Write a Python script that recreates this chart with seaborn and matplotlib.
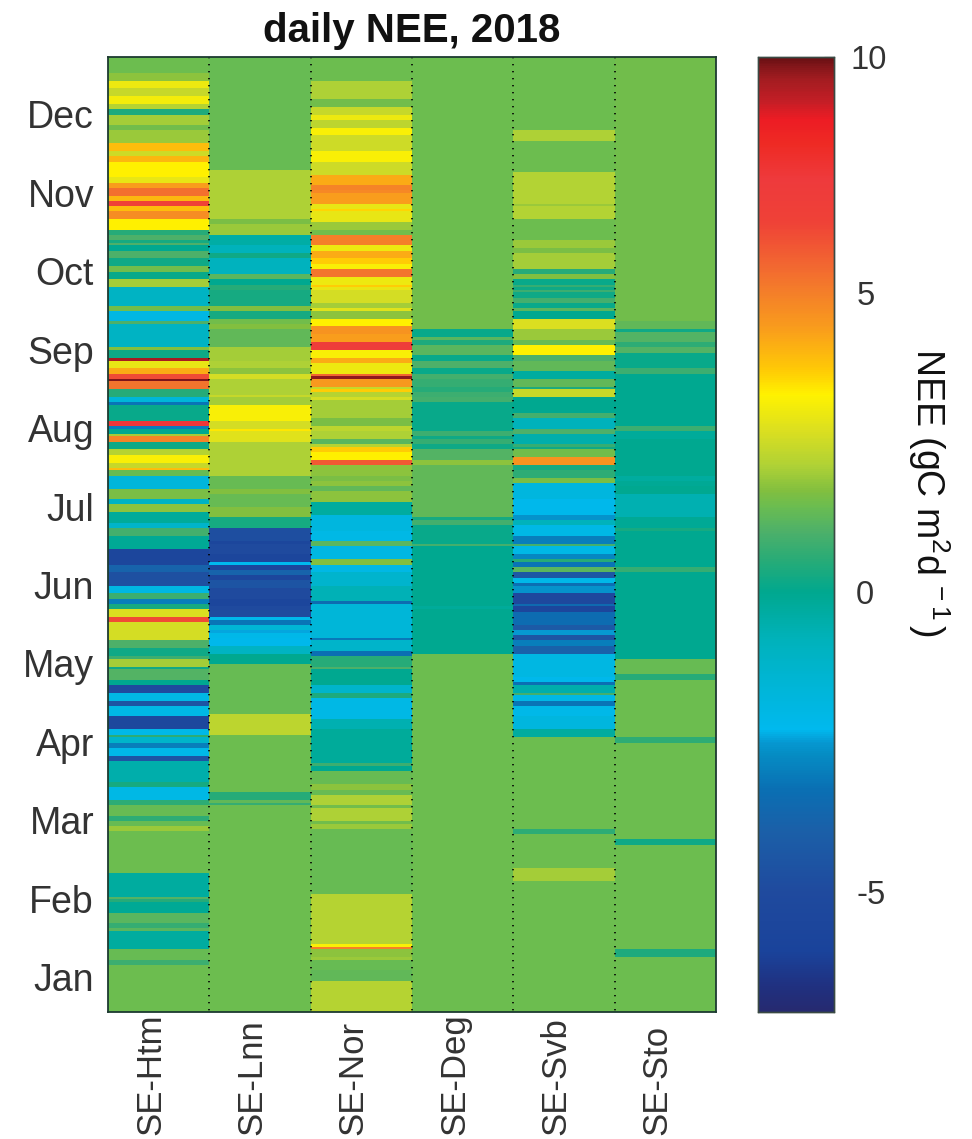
import numpy as np
import pandas as pd
import matplotlib
matplotlib.use("Agg")
import matplotlib.pyplot as plt
import matplotlib.transforms as mtrans
from matplotlib.colors import LinearSegmentedColormap
import seaborn as sns

# each site: day counted back from 31 Dec where a band ends, and the NEE of that band
htm_days = [6, 9, 12, 15, 18, 20, 22, 26, 28, 33, 36, 38, 40, 46, 48, 50, 53, 55, 57, 59, 62, 66, 68, 70, 71, 72, 74, 77, 80, 82, 85, 88,
            95, 97, 101, 102, 111, 112, 115, 116, 119, 121, 123, 124, 127, 130, 132, 133, 139, 141, 142, 144, 145, 147, 150, 152, 155, 157, 158, 160, 165, 169, 171, 174, 178, 180,
            183, 188, 194, 197, 202, 205, 207, 209, 211, 214, 216, 223, 226, 229, 230, 233, 234, 238, 240, 243, 246, 248, 252, 257, 259, 260, 262, 264, 267, 269,
            277, 279, 284, 286, 290, 292, 294, 296, 312, 321, 322, 323, 327, 331, 333, 334, 341, 345, 347, 365]
htm_nee = [1.45, 1.8, 3.0, 2.4, 3.1, 2.2, 0.4, 2.0, 1.5, 1.9, 3.9, 2.5, 4.0, 3.3, 2.9, 4.4, 5.3, 4.0, 6.2, 3.9, 4.7, 3.3, 0.5, 1.0, 0.3, 1.0, 0.0, 1.0, 0.2, 1.5, 0.1, 2.0,
           -1.0, 1.5, -1.9, 1.0, -1.0, 1.7, 0.2, 8.5, 2.9, 4.2, 6.0, 8.8, 5.2, 0.5, -1.6, -3.2, 0.1, 7.0, -3.0, 0.0, 2.0, 4.9, 0.2, 2.2, 3.2, 2.4, 3.9, 1.4, -1.7, 1.6, -1.0, 1.8, -0.2, -1.2,
           0.9, -0.1, -5.5, -3.8, -4.7, -1.9, 0.8, -3.0, 0.3, 2.7, 6.0, 2.6, 1.0, 0.2, 0.8, 2.0, 0.2, 1.1, 0.0, -5.0, -2.0, -4.5, -2.0, -5.3, -2.1, 0.6, -1.2, -3.0, -2.1, -4.5,
           -0.5, 0.3, -2.0, 0.6, 1.4, 0.6, 1.4, 1.9, 1.45, -0.3, 1.1, 0.5, -0.1, 1.2, 0.7, 1.2, -0.3, 1.4, 0.8, 1.45]

lnn_days = [43, 62, 64, 68, 72, 75, 77, 83, 85, 87, 89,
            95, 97, 100, 102, 104, 111, 116, 119, 121, 123, 129, 130, 133, 139, 142, 143, 147, 160, 165, 167, 172, 176, 180,
            185, 186, 190, 193, 194, 196, 198, 200, 203, 207, 210, 214, 215, 217, 219, 220, 222, 225, 228, 232, 251, 259, 281, 284, 285, 286, 365]
lnn_nee = [1.4, 2.1, 1.6, 1.9, -0.4, -0.8, 0.2, -0.9, 1.2, 0.0, 0.5,
           0.3, 1.7, 0.3, 1.5, 1.7, 1.3, 2.0, 2.1, 1.8, 2.6, 2.1, 2.4, 2.0, 3.2, 2.6, 3.4, 2.8, 2.1, 1.4, 1.7, 1.4, 1.7, 0.3,
           -4.8, -5.5, -5.0, -5.6, -2.3, -5.5, -3.8, -5.5, -4.5, -5.0, -5.6, -5.0, -2.2, -3.2, -1.5, -2.4, -2.1, -2.2, -1.0, 0.0, 1.4, 2.3, 1.45, 0.5, 1.3, 0.7, 1.45]

nor_days = [9, 16, 19, 22, 24, 27, 30, 36, 40, 45, 49, 51, 52, 56, 58, 59, 63, 66, 68, 72, 74, 77, 79, 81, 84, 87, 88, 89,
            94, 96, 97, 100, 103, 106, 109, 112, 115, 117, 121, 122, 123, 126, 127, 128, 130, 131, 138, 141, 143, 146, 148, 149, 151, 154, 156, 160, 162, 164, 166, 170, 175, 181,
            185, 187, 192, 194, 197, 202, 208, 209, 222, 223, 227, 229, 233, 234, 240, 243, 245, 253, 257, 270, 271, 273,
            278, 280, 282, 286, 287, 292, 293, 295, 320, 339, 340, 341, 344, 345, 349, 353, 365]
nor_nee = [1.45, 2.1, 1.5, 2.4, 3.0, 2.3, 3.2, 2.5, 3.2, 2.5, 4.2, 4.9, 4.8, 4.4, 2.9, 3.6, 2.9, 1.9, 1.5, 5.0, 3.0, 4.2, 3.7, 3.2, 5.2, 3.0, 3.7, 2.9,
           2.6, 2.0, 2.8, 1.8, 3.3, 4.6, 4.4, 6.6, 3.2, 4.2, 3.0, 5.5, 8.7, 4.5, 2.4, 3.7, 2.2, 2.6, 2.0, 1.6, 2.3, 2.1, 1.2, 2.2, 3.7, 3.3, 5.7, 1.8, 1.6, 1.8, 1.3, 1.8, -0.3, -1.8,
           -2.0, 1.2, -1.9, 1.7, -2.0, -1.3, -0.7, -3.4, -1.6, -3.1, -1.2, -3.3, 0.5, 1.0, 0.0, -1.2, 0.4, -2.0, -0.6, -0.2, 0.8, 0.0,
           1.4, 1.8, 1.4, 2.1, 1.5, 2.1, 1.5, 1.9, 1.4, 2.2, 3.2, 5.0, 1.8, 1.9, 1.4, 1.3, 2.2]

deg_days = [89, 104, 107, 108, 110, 114, 116, 119, 121, 123, 126, 128, 130, 132, 143, 145, 146, 148, 150, 154, 156, 176, 177, 179,
            186, 187, 210, 211, 228, 365]
deg_nee = [1.45, 1.5, 0.1, 1.2, 0.4, 1.2, 0.1, 1.0, 0.1, 0.9, 0.7, 0.5, 0.8, 0.9, 0.1, 0.8, 0.2, 0.7, 0.2, 1.1, 1.8, 1.3, 0.3, 0.9,
           0.1, 0.9, 0.0, -0.2, 0.0, 1.45]

svb_days = [28, 32, 44, 56, 57, 62, 70, 73, 75, 77, 81, 83, 85, 87, 88, 89,
            90, 92, 94, 96, 97, 100, 104, 108, 110, 114, 116, 120, 123, 126, 127, 130, 136, 138, 142, 144, 148, 149, 150, 153, 156, 158, 161, 163, 169, 175, 177, 179, 183,
            186, 187, 190, 192, 193, 195, 197, 199, 201, 202, 205, 209, 210, 212, 217, 219, 221, 223, 225, 228, 237, 239, 240, 243, 244, 246, 248, 252, 257, 260,
            295, 297, 310, 315, 365]
svb_nee = [1.45, 2.1, 1.45, 2.15, 1.9, 2.15, 1.45, 1.9, 1.6, 2.0, 2.0, 0.5, 1.7, 0.1, 0.7, 0.2,
           0.8, 0.2, 0.9, 0.1, 1.2, 0.0, 2.7, 1.9, 1.4, 3.3, 1.0, 1.3, -0.3, 1.3, 0.4, 2.4, 0.0, 0.9, -0.8, 1.0, -0.5, 0.7, 0.2, 1.5, 4.6, 0.3, 0.6, 1.6, -1.8, -2.2, -2.6, -0.8, -2.0,
           -3.0, 0.9, -2.0, -2.8, 0.5, -3.2, 1.2, -4.3, -2.1, -3.3, -2.6, -5.2, -3.5, -5.6, -3.4, -4.2, -2.5, -4.5, -3.0, -3.9, -1.9, -2.2, -3.3, -0.5, 0.9, -2.0, -3.2, -2.1, -1.8, -0.3,
           1.45, 0.6, 1.45, 2.0, 1.45]

sto_days = [101, 104, 105, 109, 111, 113, 119, 121, 141, 143, 146, 160, 162, 164, 167, 176, 180, 181,
            195, 197, 230, 236, 238, 260, 262, 299, 301, 341, 344, 365]
sto_nee = [1.5, 1.3, 0.2, 1.1, 0.6, 1.1, 0.1, 0.8, 0.0, 0.8, -0.2, 0.0, -0.3, -0.1, 0.0, -0.6, -0.1, 0.3,
           0.0, 0.7, 0.0, 1.4, 0.5, 1.45, 0.6, 1.45, 0.2, 1.45, 0.4, 1.45]

sites = ["SE-Htm", "SE-Lnn", "SE-Nor", "SE-Deg", "SE-Svb", "SE-Sto"]
months = ["Dec", "Nov", "Oct", "Sep", "Aug", "Jul", "Jun", "May", "Apr", "Mar", "Feb", "Jan"]

# colour bar
scale_nee = [-7.0, -6.6, -6.0, -5.0, -4.0, -3.3, -2.7, -2.5, -2.3, -1.5, -0.8, 0.0, 0.5, 1.0, 1.45, 1.7, 2.1, 2.7, 3.3, 3.7, 4.4, 5.0, 5.5, 6.2, 6.9, 7.5, 7.9, 8.2, 8.6, 8.93]
scale_col = ["#262a70", "#20307f", "#1a439b", "#1f4a9e", "#1b5fa8", "#0a6fb3", "#058dc4", "#0699d2", "#00b9ee", "#00b5d5", "#00b2bb", "#00a88f", "#25ab78", "#4cb06a", "#6cbd4f",
             "#82bf3f", "#aed136", "#dbdf20", "#fff200", "#ffcb05", "#f99d1c", "#f47f29", "#f26531", "#ef4137", "#ee3a3c", "#ee2a24", "#ed1c24", "#c41e26", "#a01c20", "#6a1014"]


def daily(days, nee):
    return np.repeat(nee, np.diff(days, prepend=0))


df = pd.DataFrame({
    "SE-Htm": daily(htm_days, htm_nee),
    "SE-Lnn": daily(lnn_days, lnn_nee),
    "SE-Nor": daily(nor_days, nor_nee),
    "SE-Deg": daily(deg_days, deg_nee),
    "SE-Svb": daily(svb_days, svb_nee),
    "SE-Sto": daily(sto_days, sto_nee),
})[sites]

sns.set_theme(style="white")
plt.rcParams["font.family"] = ["Liberation Sans", "DejaVu Sans"]
plt.rcParams["mathtext.default"] = "regular"

vmin, vmax = scale_nee[0], scale_nee[-1]
pos = [(v - vmin) / (vmax - vmin) for v in scale_nee]
cmap = LinearSegmentedColormap.from_list("nee", list(zip(pos, scale_col)), N=512)

W, H = 972, 1139
fig = plt.figure(figsize=(W / 100, H / 100), dpi=100)
ax = fig.add_axes([108 / W, 1 - 1012 / H, 608 / W, 955 / H])
cax = fig.add_axes([758 / W, 1 - 1012 / H, 76 / W, 955 / H])

sns.heatmap(df, ax=ax, cbar_ax=cax, cmap=cmap, vmin=vmin, vmax=vmax,
            xticklabels=sites, yticklabels=False,
            cbar_kws={"ticks": [-5, 0, 5, vmax]})

ink = "#333333"
ax.set_yticks(np.arange(21.8, 353, 30), months, rotation=0, fontsize=27, color=ink)
ax.tick_params(axis="y", length=0, pad=10)
ax.tick_params(axis="x", length=0, pad=3, labelsize=25, labelcolor=ink)
# site names are aligned on their first letter, right at the bottom edge of the figure
shift = mtrans.ScaledTranslation(-8 / 100, -1.19, fig.dpi_scale_trans)
for lab in ax.get_xticklabels():
    lab.set_rotation(90)
    lab.set_ha("center")
    lab.set_va("bottom")
    lab.set_transform(lab.get_transform() + shift)

ax.vlines(np.arange(1, 6), 0, 365, colors="black", linestyles=(0, (0.8, 3.4)), linewidth=1.2)
for sp in ax.spines.values():
    sp.set_visible(True)
    sp.set_color("#1c3a30")
    sp.set_linewidth(1.3)

ax.set_title("daily NEE, 2018", fontsize=29, fontweight="bold", color="#111111", pad=11)

cax.set_yticklabels(["-5", "0", "5", "10"], fontsize=23.5, color=ink)
cax.tick_params(axis="y", direction="in", length=7, width=0.8, right=True, left=False, pad=16, color="#333333")
top_lab = cax.get_yticklabels()[-1]
top_lab.set_transform(top_lab.get_transform() + mtrans.ScaledTranslation(-6 / 100, 0, fig.dpi_scale_trans))
cax.set_ylabel("NEE (gC m$^{2}$d$^{\\,-1\\,}$)", rotation=270, fontsize=27, color="#111111")
cax.yaxis.set_label_coords(2.55, 0.544)
for sp in cax.spines.values():
    sp.set_visible(True)
    sp.set_color("#3a4a44")
    sp.set_linewidth(1.0)

plt.savefig("out.png", dpi=100)
